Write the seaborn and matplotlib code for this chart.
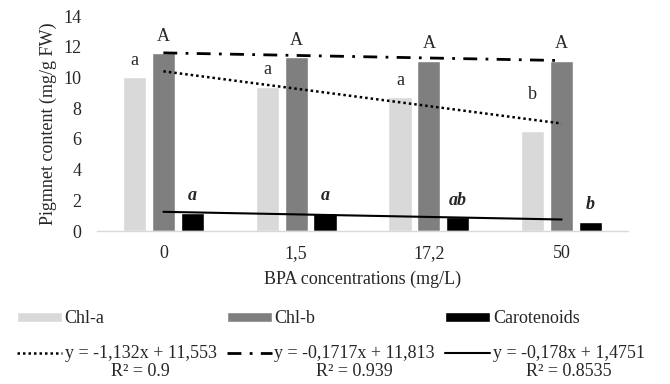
"""
Pigment content vs BPA concentration: grouped bars with linear trendlines
"""

import numpy as np
import pandas as pd
import seaborn as sns
import matplotlib
matplotlib.use("Agg")
import matplotlib.pyplot as plt
from matplotlib.transforms import IdentityTransform

# data
concentrations = ["0", "1,5", "17,2", "50"]
pigments = ["Chl-a", "Chl-b", "Carotenoids"]
chl_a = [10.0, 9.4, 8.7, 6.5]
chl_b = [11.6, 11.3, 11.1, 11.1]
carotenoids = [1.2, 1.2, 0.9, 0.6]

chl_a_letters = ["a", "a", "a", "b"]
chl_b_letters = ["A", "A", "A", "A"]
car_letters = ["a", "a", "ab", "b"]

# trendline ends (first and last concentration)
chl_a_trend = [10.4, 7.0]
chl_b_trend = [11.6, 11.1]
car_trend = [1.25, 0.75]

equations = ["y = -1,132x + 11,553", "y = -0,1717x + 11,813", "y = -0,178x + 1,4751"]
r_squared = ["R² = 0.9", "R² = 0.939", "R² = 0.8535"]

colors = ["#d9d9d9", "#7f7f7f", "#000000"]

df = pd.DataFrame({
    "conc": concentrations * 3,
    "pigment": np.repeat(pigments, len(concentrations)),
    "value": chl_a + chl_b + carotenoids,
})

sns.set_theme(style="white")
plt.rcParams["font.family"] = ["Liberation Serif", "DejaVu Serif"]
plt.rcParams["font.size"] = 13

fig = plt.figure(figsize=(6.7, 3.84), dpi=100)
ax = fig.add_axes([0.1448, 0.3984, 0.7925, 0.5599])

sns.barplot(data=df, x="conc", y="value", hue="pigment", order=concentrations,
            hue_order=pigments, palette=colors, width=0.654, gap=0.2,
            saturation=1, legend=False, ax=ax)

# letters above bars
ann_a = ax.bar_label(ax.containers[0], labels=chl_a_letters, padding=6, fontsize=13)
ax.bar_label(ax.containers[1], labels=chl_b_letters, padding=6, fontsize=13)
ax.bar_label(ax.containers[2], labels=car_letters, padding=6, fontsize=13,
             fontstyle="italic", fontweight="bold")
# last Chl-a letter sits higher, clear of the dotted trendline
ann_a[-1].xyann = (0, 20)

# trendlines
ends = [0, len(concentrations) - 1]
l1, = ax.plot(ends, chl_a_trend, color="black", lw=1.8, linestyle=(0, (1, 1.2)), zorder=5)
l2, = ax.plot(ends, chl_b_trend, color="black", lw=2, linestyle=(0, (5, 3, 1, 3)), zorder=5)
l3, = ax.plot(ends, car_trend, color="black", lw=1.5, linestyle="-", zorder=5)

ax.set_ylim(0, 14)
ax.set_yticks(range(0, 15, 2))
ax.set_xlim(-0.5, len(concentrations) - 0.5)
ax.tick_params(axis="both", length=0, labelsize=13)
ax.tick_params(axis="y", pad=11)
ax.tick_params(axis="x", pad=10)
for s in ["left", "right", "top"]:
    ax.spines[s].set_visible(False)
ax.spines["bottom"].set_color("#d9d9d9")
ax.spines["bottom"].set_linewidth(1)

ax.set_xlabel("BPA concentrations (mg/L)", fontsize=13, labelpad=6)
ax.set_ylabel("Pigmnet content (mg/g FW)", fontsize=13, labelpad=5)

# one legend: bars on the first row, trendlines on the second
bar_handles = [c.patches[0] for c in ax.containers]
handles, labels = [], []
for bh, name, lh, eq in zip(bar_handles, pigments, [l1, l2, l3], equations):
    handles += [bh, lh]
    labels += [name, eq]
leg = fig.legend(handles, labels, ncol=3, loc="upper left",
                 bbox_to_anchor=(0.025, 0.192), frameon=False, fontsize=13,
                 handlelength=2.5, handleheight=0.45, handletextpad=0.15,
                 columnspacing=0.55, labelspacing=1.0, borderpad=0,
                 borderaxespad=0)

# R² under each equation
fig.canvas.draw()
for t, r2 in zip(leg.get_texts()[1::2], r_squared):
    bb = t.get_window_extent()
    fig.text((bb.x0 + bb.x1) / 2, bb.y0 - 1, r2, ha="center", va="top",
             fontsize=13, transform=IdentityTransform())

fig.savefig("out.png", dpi=100)
